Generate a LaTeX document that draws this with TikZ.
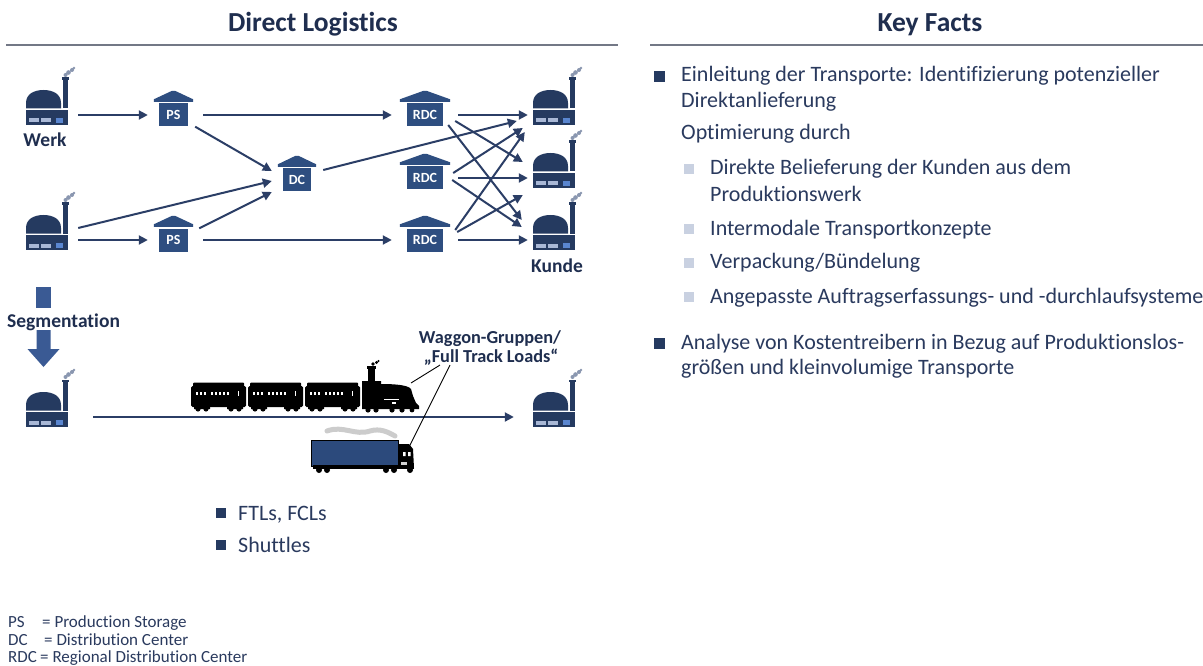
\documentclass[tikz,border=0pt]{standalone}
\usepackage{fontspec}
\setmainfont{Carlito}[Ligatures=NoCommon]
\usetikzlibrary{calc,arrows.meta}

\definecolor{headcol}{HTML}{1F2E4F}
\definecolor{txtcol}{HTML}{2A3A5E}
\definecolor{boxblue}{HTML}{2E4E80}
\definecolor{factcol}{HTML}{253A60}
\definecolor{arrowc}{HTML}{2B3E66}
\definecolor{winlight}{HTML}{A9B8D6}
\definecolor{winblue}{HTML}{5A86D0}
\definecolor{smokecol}{HTML}{8A97B0}
\definecolor{segblue}{HTML}{3A5A94}
\definecolor{subbul}{HTML}{C9D1E1}
\definecolor{rulegray}{HTML}{737886}
\definecolor{truckblue}{HTML}{2C4A7C}

\tikzset{
  arr/.style={draw=arrowc, line width=2pt, -{Triangle[length=9pt,width=9pt]}},
  store/.style={fill=boxblue, text=white, font=\bfseries\fontsize{14}{14}\selectfont,
    minimum height=23pt, inner sep=0pt},
  site/.style={minimum width=42pt, minimum height=20pt, inner sep=0pt},
  lbl/.style={text=headcol, font=\bfseries\fontsize{19.5}{22}\selectfont, inner sep=0pt, anchor=base},
  title/.style={text=headcol, font=\bfseries\fontsize{27.5}{30}\selectfont, inner sep=0pt, anchor=base},
  kf/.style={text=txtcol, font=\fontsize{22}{25}\selectfont, anchor=base west, inner sep=0pt},
  small/.style={text=txtcol, font=\fontsize{22}{24}\selectfont, anchor=base west, inner sep=0pt},
  legend/.style={text=txtcol, font=\fontsize{17}{19}\selectfont, anchor=base west, inner sep=0pt},
  darkbul/.style={fill=factcol, minimum size=10.5pt, inner sep=0pt},
  lightbul/.style={fill=subbul, minimum size=10pt, inner sep=0pt},
  factory/.pic={
    \fill[factcol] (-21,-15) rectangle (21,0);
    \fill[factcol] (-21,-16.5) -- (-21,-22) .. controls (-21,-31) and (-13,-35) .. (-3.5,-35)
        .. controls (6,-35) and (14,-31) .. (14,-22) -- (14,-16.5) -- cycle;
    \fill[factcol] (15.5,-16.5) rectangle (20.5,-45);
    \fill[factcol] (14.5,-45) rectangle (21.5,-47.5);
    \fill[smokecol] (18.5,-50) circle (2) (21.5,-52.5) circle (2.3) (25,-55) circle (2)
        (27,-57) circle (1.4);
    \fill[winlight] (-18,-6.5) rectangle (-8,-2.5);
    \fill[winlight] (-6,-6.5) rectangle (4,-2.5);
    \fill[winblue] (9,-7) rectangle (16,-2);
  }
}

\begin{document}
\begin{tikzpicture}[x=1pt,y=-1pt]
\useasboundingbox (0,0) rectangle (1203,666);
\fill[white] (0,0) rectangle (1203,666);

% ---------- headers ----------
\node[title] (hleft) at (313,32) {Direct Logistics};
\node[title] (hright) at (930,32) {Key Facts};
\draw[rulegray, line width=1.8pt] (6,45) -- (618,45);
\draw[rulegray, line width=1.8pt] (650,45) -- (1203,45);

% ---------- plants and customers ----------
\node[site] (f1) at (47,115) {};
\node[site] (f2) at (47,240) {};
\node[site] (k1) at (554,115) {};
\node[site] (k2) at (554,178) {};
\node[site] (k3) at (554,240) {};
\node[site] (f3) at (47,417) {};
\node[site] (k4) at (554,417) {};
\foreach \n in {f1,f2,k1,k2,k3,f3,k4}{
  \pic at ($(\n.center)+(0,10)$) {factory};
}
\node[lbl] (werk) at (45,147) {Werk};
\node[lbl] (kunde) at (557,272) {Kunde};

% ---------- storage and distribution sites ----------
\node[store, minimum width=29pt] (ps1) at (173.5,115) {PS};
\node[store, minimum width=29pt] (ps2) at (173.5,240) {PS};
\node[store, minimum width=28pt] (dc) at (297,180) {DC};
\node[store, minimum width=36pt] (rdc1) at (425,115) {RDC};
\node[store, minimum width=36pt] (rdc2) at (425,178) {RDC};
\node[store, minimum width=36pt] (rdc3) at (425,240) {RDC};
\foreach \n/\o in {ps1/5,ps2/5,dc/5,rdc1/7,rdc2/7,rdc3/7}{
  \fill[boxblue] ($(\n.north west)+(-\o,-1.5)$) -- ++(0,-2.5)
     -- ($(\n.north)+(-1.5,-12.5)$) -- ($(\n.north)+(1.5,-12.5)$)
     -- ($(\n.north east)+(\o,-4)$) -- ++(0,2.5) -- cycle;
}

% ---------- flows ----------
\draw[arr] ($(f1.east)+(10,0)$) -- ($(ps1.west)+(-11,0)$);
\draw[arr] ($(ps1.east)+(15,0)$) -- ($(rdc1.west)+(-15,0)$);
\draw[arr] ($(ps1.south east)+(7,0)$) -- ($(dc.west)+(-11,-9)$);
\draw[arr] ($(f2.east)+(10,-12)$) -- ($(dc.west)+(-11,1)$);
\draw[arr] ($(f2.east)+(10,0)$) -- ($(ps2.west)+(-11,0)$);
\draw[arr] ($(ps2.north east)+(11,0)$) -- ($(dc.west)+(-11,12)$);
\draw[arr] ($(ps2.east)+(15,0)$) -- ($(rdc3.west)+(-15,0)$);
\draw[arr] ($(dc.east)+(12,-10)$) -- ($(k1.west)+(-16,6)$);

\draw[arr] ($(rdc1.east)+(15,0)$) -- ($(k1.west)+(-5,0)$);
\draw[arr] ($(rdc1.east)+(12,6)$) -- ($(k2.west)+(-10,-16)$);
\draw[arr] ($(rdc1.east)+(5,10)$) -- ($(k3.west)+(-11,-20)$);
\draw[arr] ($(rdc2.east)+(10,-5)$) -- ($(k1.west)+(-10,13)$);
\draw[arr] ($(rdc2.east)+(15,0)$) -- ($(k2.west)+(-5,0)$);
\draw[arr] ($(rdc2.east)+(9,2)$) -- ($(k3.west)+(-11,-13)$);
\draw[arr] ($(rdc3.east)+(12,-10)$) -- ($(k1.west)+(-8,17)$);
\draw[arr] ($(rdc3.east)+(14,-8)$) -- ($(k2.west)+(-10,17)$);
\draw[arr] ($(rdc3.east)+(15,0)$) -- ($(k3.west)+(-5,0)$);

% ---------- segmentation ----------
\fill[segblue] (35.5,287) rectangle (50.5,308);
\node[lbl, anchor=base west] (seg) at (7,327) {Segmentation};
\fill[segblue] (36.5,330) -- (50.5,330) -- (50.5,349) -- (59.5,349) -- (43.5,367)
   -- (27.5,349) -- (36.5,349) -- cycle;

\draw[arr] ($(f3.east)+(25,0)$) -- ($(k4.west)+(-19,0)$);

% ---------- train ----------
\foreach \i in {0,1,2}{
  \begin{scope}[shift={(191+57*\i,0)}]
    \fill[black, rounded corners=1.5pt] (0,386) rectangle (55,407);
    \fill[black, rounded corners=1pt] (2,382.5) rectangle (53,388);
    \foreach \w in {5,9,13,20,24,28,32,36}{
      \fill[white] (\w,392) rectangle ++(2.4,3);
    }
    \fill[white] (47,391) rectangle ++(1.4,5);
    \fill[black] (3,405) rectangle (19,409) (36,405) rectangle (52,409);
    \fill[black] (7,409) circle (2.6) (15,409) circle (2.6) (40,409) circle (2.6) (48,409) circle (2.6);
  \end{scope}
}
\fill[black] (362,381) -- (381,381) -- (381,384) .. controls (395,384) and (408,385) .. (411,389)
  -- (413,396) -- (416,403) -- (419,406) -- (419,409) -- (362,409) -- cycle;
\fill[black] (368,367) rectangle (374.5,382);
\fill[black] (366.5,366) rectangle (376,368.5);
\fill[black] (373,364) circle (1.8) (376.5,362.5) circle (1.6) (378.5,361) circle (1.2);
\draw[white, line width=1pt] (384,399) -- (399,399);
\fill[white] (392,402) rectangle (396,403.5);
\fill[black] (368,410) circle (2.6) (376,410) circle (2.6) (392,410) circle (2.6) (402,410) circle (2.6) (412,410) circle (2.4);
\coordinate (loco) at (411,383);

% ---------- truck ----------
\draw[gray!40, line width=5pt, line cap=round] (327,431) .. controls (343,425) and (355,436) .. (370,431)
   .. controls (380,428) and (388,432) .. (395,436);
\fill[truckblue] (311,440) rectangle (398,466);
\draw[black, line width=0.6pt] (311,440) rectangle (398,466);
\fill[black] (399,444) -- (409,444) -- (413,449) -- (414,468) -- (399,468) -- cycle;
\fill[white] (403,452) rectangle (405.5,456) (408,452) rectangle (410.5,456);
\fill[gray!35] (401,462) rectangle (407,466);
\fill[black] (313,465) rectangle (414,469);
\fill[black] (319,470) circle (3) (327,470) circle (3) (386,470) circle (3) (394,470) circle (3) (410,470) circle (3);
\coordinate (cab) at (409,447);

% ---------- callout ----------
\node[lbl, font=\bfseries\fontsize{18.3}{20}\selectfont] (wg) at (490,343) {Waggon-Gruppen/};
\node[lbl, font=\bfseries\fontsize{18.3}{20}\selectfont] (ftl) at (491,362) {„Full Track Loads“};
\draw[black, line width=0.9pt] ($(ftl.south)+(-51,0)$) -- (loco);
\draw[black, line width=0.9pt] ($(ftl.south)+(-41,0)$) -- (cab);

% ---------- transport modes ----------
\node[darkbul] (b1) at (221,513) {};
\node[small] (t1) at (238,520) {FTLs, FCLs};
\node[darkbul] (b2) at (221,545) {};
\node[small] (t2) at (238,552) {Shuttles};

% ---------- abbreviations ----------
\node[legend] (l1a) at (8,627) {PS};
\node[legend] (l1b) at (42,627) {= Production Storage};
\node[legend] (l2a) at (8,645) {DC};
\node[legend] (l2b) at (44,645) {= Distribution Center};
\node[legend] (l3a) at (8,662.5) {RDC};
\node[legend] (l3b) at (40,662.5) {= Regional Distribution Center};

% ---------- key facts ----------
\node[darkbul] (kb1) at (659.5,76.5) {};
\node[kf] (kf1) at (681,82) {Einleitung der Transporte: Identifizierung potenzieller};
\node[kf] (kf2) at (681,108) {Direktanlieferung};
\node[kf] (kf3) at (681,140) {Optimierung durch};
\node[lightbul] (sb1) at (688.5,169) {};
\node[kf] (kf4) at (710,175) {Direkte Belieferung der Kunden aus dem};
\node[kf] (kf5) at (710,201) {Produktionswerk};
\node[lightbul] (sb2) at (688.5,229) {};
\node[kf] (kf6) at (710,235) {Intermodale Transportkonzepte};
\node[lightbul] (sb3) at (688.5,263) {};
\node[kf] (kf7) at (710,269) {Verpackung/Bündelung};
\node[lightbul] (sb4) at (688.5,297) {};
\node[kf] (kf8) at (710,303) {Angepasste Auftragserfassungs- und -durchlaufsysteme};
\node[darkbul] (kb2) at (659.5,343.5) {};
\node[kf] (kf9) at (681,349) {Analyse von Kostentreibern in Bezug auf Produktionslos-};
\node[kf] (kf10) at (681,374) {größen und kleinvolumige Transporte};
\end{tikzpicture}
\end{document}
